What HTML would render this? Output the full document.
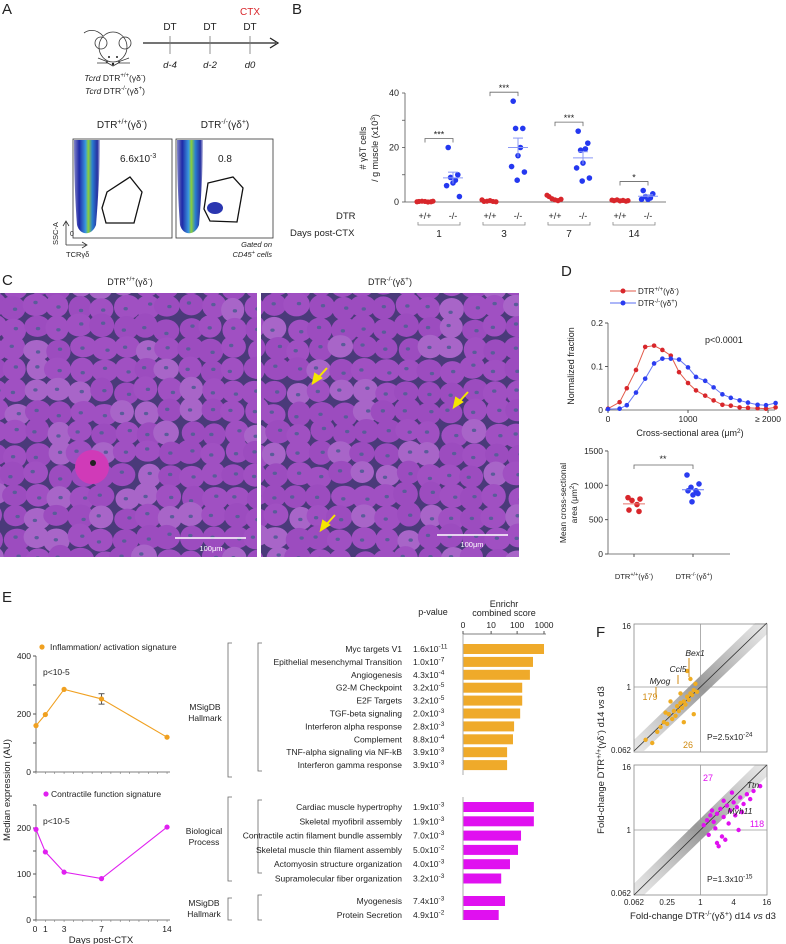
<!DOCTYPE html>
<html><head><meta charset="utf-8"><style>
html,body{margin:0;padding:0;background:#fff;}
svg{display:block;font-family:"Liberation Sans",Arial,sans-serif;}
text{fill:#222;}
</style></head><body>
<svg id="fig" width="786" height="944" viewBox="0 0 786 944" xmlns="http://www.w3.org/2000/svg">
<defs>
<linearGradient id="band" x1="0" x2="1" y1="0" y2="0">
<stop offset="0" stop-color="#2a2fa0" stop-opacity="0.6"/><stop offset="0.2" stop-color="#1f2aa8"/><stop offset="0.45" stop-color="#3a9adf"/><stop offset="0.55" stop-color="#8ccf3a"/><stop offset="0.7" stop-color="#2a7fd0"/><stop offset="0.9" stop-color="#2630a0"/><stop offset="1" stop-color="#2a2fa0" stop-opacity="0.3"/>
</linearGradient>
<linearGradient id="cloud" x1="0" x2="1" y1="1" y2="0">
<stop offset="0" stop-color="#999" stop-opacity="0.3"/><stop offset="0.5" stop-color="#666" stop-opacity="0.9"/><stop offset="1" stop-color="#999" stop-opacity="0.3"/>
</linearGradient>
</defs>

<!-- Panel A -->
<g>
<text x="2" y="14" font-size="15">A</text>
<g fill="none" stroke="#333" stroke-width="0.8">
<path d="M103,36 C96,28 88,30 84,33"/>
<ellipse cx="113" cy="47" rx="14" ry="15"/>
<circle cx="101" cy="43" r="6"/><circle cx="125" cy="43" r="6"/>
<path d="M106,62 L113,66 L120,62"/>
<path d="M108,62 L98,58 M108,63 L97,63 M118,62 L129,58 M118,63 L130,63"/>
</g>
<circle cx="109" cy="57" r="1" fill="#222"/><circle cx="117" cy="57" r="1" fill="#222"/><circle cx="113" cy="64" r="1.2" fill="#222"/>
<text x="115" y="81" font-size="8.5" text-anchor="middle"><tspan font-style="italic">Tcrd</tspan> DTR<tspan font-size="6" dy="-4">+/+</tspan><tspan dy="4">(γδ</tspan><tspan font-size="6" dy="-4">-</tspan><tspan dy="4">)</tspan></text>
<text x="115" y="94" font-size="8.5" text-anchor="middle"><tspan font-style="italic">Tcrd</tspan> DTR<tspan font-size="6" dy="-4">-/-</tspan><tspan dy="4">(γδ</tspan><tspan font-size="6" dy="-4">+</tspan><tspan dy="4">)</tspan></text>
<g>
<line x1="143" y1="43" x2="276" y2="43" stroke="#222" stroke-width="1.3"/>
<path d="M270,38 L278,43 L270,48" fill="none" stroke="#222" stroke-width="1.3"/>
<line x1="170" y1="36" x2="170" y2="54" stroke="#777" stroke-width="0.8"/>
<line x1="210" y1="36" x2="210" y2="54" stroke="#777" stroke-width="0.8"/>
<line x1="250" y1="36" x2="250" y2="54" stroke="#777" stroke-width="0.8"/>
<text x="170" y="30" font-size="10" text-anchor="middle">DT</text>
<text x="210" y="30" font-size="10" text-anchor="middle">DT</text>
<text x="250" y="30" font-size="10" text-anchor="middle">DT</text>
<text x="250" y="15" font-size="10" text-anchor="middle" style="fill:#d8262b">CTX</text>
<text x="170" y="68" font-size="9.5" font-style="italic" text-anchor="middle">d-4</text>
<text x="210" y="68" font-size="9.5" font-style="italic" text-anchor="middle">d-2</text>
<text x="250" y="68" font-size="9.5" font-style="italic" text-anchor="middle">d0</text>
</g>
<text x="122" y="128" font-size="10" text-anchor="middle">DTR<tspan font-size="7" dy="-4">+/+</tspan><tspan dy="4">(γδ</tspan><tspan font-size="7" dy="-4">-</tspan><tspan dy="4">)</tspan></text>
<text x="225" y="128" font-size="10" text-anchor="middle">DTR<tspan font-size="7" dy="-4">-/-</tspan><tspan dy="4">(γδ</tspan><tspan font-size="7" dy="-4">+</tspan><tspan dy="4">)</tspan></text>
<g>
<path d="M74,140 L100,140 C100,170 98,200 96,225 C92,236 80,236 77,225 C75,200 74,170 74,140Z" fill="url(#band)"/>
<rect x="73" y="139" width="99" height="99" fill="none" stroke="#333" stroke-width="0.8"/>
<polygon points="102,208 107,192 130,177 142,192 134,223 106,223" fill="none" stroke="#111" stroke-width="1.3"/>
<text x="120" y="162" font-size="10">6.6x10<tspan font-size="7" dy="-4">-3</tspan></text>
</g>
<g>
<path d="M177,140 L203,140 C203,170 201,200 199,225 C195,236 183,236 180,225 C178,200 177,170 177,140Z" fill="url(#band)"/>
<ellipse cx="215" cy="208" rx="8" ry="6" fill="#2a36b0"/>
<rect x="176" y="139" width="97" height="99" fill="none" stroke="#333" stroke-width="0.8"/>
<polygon points="204,209 208,183 233,177 243,188 237,222 210,221" fill="none" stroke="#111" stroke-width="1.3"/>
<text x="218" y="162" font-size="10">0.8</text>
</g>
<g stroke="#333" stroke-width="0.8" fill="none"><path d="M66,245 L66,222 M63,226 L66,221 L69,226 M66,245 L86,245 M82,242 L87,245 L82,248"/></g>
<text x="58" y="245" font-size="7.5" transform="rotate(-90 58 245)">SSC-A</text>
<text x="66" y="257" font-size="7.5">TCRγδ</text>
<text x="70" y="236" font-size="7">0</text>
<text x="272" y="247" font-size="7.5" font-style="italic" text-anchor="end">Gated on</text>
<text x="272" y="257" font-size="7.5" font-style="italic" text-anchor="end">CD45<tspan font-size="5.5" dy="-3">+</tspan><tspan dy="3"> cells</tspan></text>
</g>

<!-- Panel B -->
<g id="panelB">
<text x="292" y="14" font-size="15">B</text>
<line x1="405" y1="93" x2="405" y2="202" stroke="#555" stroke-width="0.8"/>
<line x1="405" y1="202" x2="666" y2="202" stroke="#555" stroke-width="0.8"/>
<text x="366" y="148" font-size="9" text-anchor="middle" transform="rotate(-90 366 148)"># γδT cells</text>
<text x="378" y="148" font-size="9" text-anchor="middle" transform="rotate(-90 378 148)">/ g muscle (x10<tspan font-size="6.5" dy="-3">3</tspan><tspan dy="3">)</tspan></text>
<text x="336" y="219" font-size="9.5" text-anchor="start">DTR</text>
<text x="290" y="236" font-size="9.5">Days post-CTX</text>
</g>

<!-- Panel C -->
<g>
<text x="2" y="285" font-size="15">C</text>
<text x="130" y="285" font-size="9" text-anchor="middle">DTR<tspan font-size="6.5" dy="-4">+/+</tspan><tspan dy="4">(γδ</tspan><tspan font-size="6.5" dy="-4">-</tspan><tspan dy="4">)</tspan></text>
<text x="390" y="285" font-size="9" text-anchor="middle">DTR<tspan font-size="6.5" dy="-4">-/-</tspan><tspan dy="4">(γδ</tspan><tspan font-size="6.5" dy="-4">+</tspan><tspan dy="4">)</tspan></text>
<svg x="0" y="293" width="257" height="264" overflow="hidden"><g id="histoL"></g></svg>
<svg x="261" y="293" width="258" height="264" overflow="hidden"><g id="histoR"></g></svg>
<line x1="175" y1="538" x2="246" y2="538" stroke="#fff" stroke-width="1.5"/>
<text x="211" y="551" font-size="7.5" text-anchor="middle" style="fill:#fff">100μm</text>
<line x1="437" y1="535" x2="508" y2="535" stroke="#fff" stroke-width="1.5"/>
<text x="472" y="547" font-size="7.5" text-anchor="middle" style="fill:#fff">100μm</text>
<g stroke="#f5e600" stroke-width="2" fill="#f5e600">
<line x1="327" y1="368" x2="317" y2="379"/><polygon points="313,383 315,374 321,378"/>
<line x1="468" y1="392" x2="458" y2="403"/><polygon points="454,407 456,398 462,402"/>
<line x1="335" y1="515" x2="325" y2="526"/><polygon points="321,530 323,521 329,525"/>
</g>
</g>

<!-- Panel D -->
<g id="panelD">
<text x="561" y="276" font-size="15">D</text>
<g>
<line x1="610" y1="291" x2="636" y2="291" stroke="#e25a4a"/><circle cx="623" cy="291" r="2.5" fill="#d8262b"/>
<text x="638" y="294" font-size="8">DTR<tspan font-size="6" dy="-3">+/+</tspan><tspan dy="3">(γδ</tspan><tspan font-size="6" dy="-3">-</tspan><tspan dy="3">)</tspan></text>
<line x1="610" y1="303" x2="636" y2="303" stroke="#5a6cf0"/><circle cx="623" cy="303" r="2.5" fill="#2a3cf0"/>
<text x="638" y="306" font-size="8">DTR<tspan font-size="6" dy="-3">-/-</tspan><tspan dy="3">(γδ</tspan><tspan font-size="6" dy="-3">+</tspan><tspan dy="3">)</tspan></text>
</g>
<text x="705" y="343" font-size="9">p&lt;0.0001</text>
<text x="574" y="366" font-size="9" text-anchor="middle" transform="rotate(-90 574 366)">Normalized fraction</text>
<text x="690" y="436" font-size="9" text-anchor="middle">Cross-sectional area (μm<tspan font-size="6.5" dy="-3">2</tspan><tspan dy="3">)</tspan></text>
<text x="566" y="503" font-size="8.5" text-anchor="middle" transform="rotate(-90 566 503)">Mean cross-sectional</text>
<text x="577" y="503" font-size="8.5" text-anchor="middle" transform="rotate(-90 577 503)">area (μm<tspan font-size="6.5" dy="-3">2</tspan><tspan dy="3">)</tspan></text>
<text x="634" y="579" font-size="7.5" text-anchor="middle">DTR<tspan font-size="5.5" dy="-3">+/+</tspan><tspan dy="3">(γδ</tspan><tspan font-size="5.5" dy="-3">-</tspan><tspan dy="3">)</tspan></text>
<text x="694" y="579" font-size="7.5" text-anchor="middle">DTR<tspan font-size="5.5" dy="-3">-/-</tspan><tspan dy="3">(γδ</tspan><tspan font-size="5.5" dy="-3">+</tspan><tspan dy="3">)</tspan></text>
</g>

<!-- Panel E -->
<g id="panelE">
<text x="2" y="602" font-size="15">E</text>
<circle cx="42" cy="647" r="2.6" fill="#f0a020"/>
<text x="50" y="650" font-size="8.5">Inflammation/ activation signature</text>
<text x="43" y="675" font-size="8.5">p&lt;10-5</text>
<circle cx="46" cy="794" r="2.6" fill="#e020f0"/>
<text x="51" y="797" font-size="8.5">Contractile function signature</text>
<text x="43" y="824" font-size="8.5">p&lt;10-5</text>
<text x="10" y="790" font-size="9.5" text-anchor="middle" transform="rotate(-90 10 790)">Median expression (AU)</text>
<text x="101" y="943" font-size="9.5" text-anchor="middle">Days post-CTX</text>
<g fill="none" stroke="#666" stroke-width="0.8">
<path d="M232,643 L228,643 L228,777 L232,777"/>
<path d="M232,797 L228,797 L228,881 L232,881"/>
<path d="M232,898 L228,898 L228,920 L232,920"/>
<path d="M262,643 L258,643 L258,771 L262,771"/>
<path d="M262,800 L258,800 L258,873 L262,873"/>
<path d="M262,895 L258,895 L258,920 L262,920"/>
</g>
<text x="205" y="710" font-size="8.5" text-anchor="middle">MSigDB</text>
<text x="205" y="721" font-size="8.5" text-anchor="middle">Hallmark</text>
<text x="204" y="834" font-size="8.5" text-anchor="middle">Biological</text>
<text x="204" y="845" font-size="8.5" text-anchor="middle">Process</text>
<text x="204" y="906" font-size="8.5" text-anchor="middle">MSigDB</text>
<text x="204" y="917" font-size="8.5" text-anchor="middle">Hallmark</text>
<text x="433" y="615" font-size="9" text-anchor="middle">p-value</text>
<text x="504" y="607" font-size="9" text-anchor="middle">Enrichr</text>
<text x="504" y="616" font-size="9" text-anchor="middle">combined score</text>
<line x1="463" y1="634" x2="546" y2="634" stroke="#555" stroke-width="0.8"/>
<line x1="463" y1="634" x2="463" y2="775" stroke="#999" stroke-width="0.8"/>
<line x1="463" y1="797" x2="463" y2="920" stroke="#999" stroke-width="0.8"/>
</g>

<!-- Panel F -->
<g id="panelF">
<text x="596" y="637" font-size="15">F</text>
<text x="604" y="760" font-size="9.5" text-anchor="middle" transform="rotate(-90 604 760)">Fold-change DTR<tspan font-size="7" dy="-3">+/+</tspan><tspan dy="3">(γδ</tspan><tspan font-size="7" dy="-3">-</tspan><tspan dy="3">) d14 </tspan><tspan font-style="italic">vs</tspan> d3</text>
<text x="703" y="919" font-size="9.5" text-anchor="middle">Fold-change DTR<tspan font-size="7" dy="-3">-/-</tspan><tspan dy="3">(γδ</tspan><tspan font-size="7" dy="-3">+</tspan><tspan dy="3">) d14 </tspan><tspan font-style="italic">vs</tspan> d3</text>
</g>
</svg>

<script>
const NS = "http://www.w3.org/2000/svg";
const fig = document.getElementById('fig');
function mk(tag, parent, attrs) { const e = document.createElementNS(NS, tag); for (const k in attrs) e.setAttribute(k, attrs[k]); (parent || fig).appendChild(e); return e; }
function txt(parent, x, y, s, size, anchor, extra) { const t = mk('text', parent, Object.assign({x: x, y: y, 'font-size': size, 'text-anchor': anchor || 'start'}, extra || {})); t.textContent = s; return t; }

// ===== Panel B data =====
const bDays = ['1', '3', '7', '14'];
const bWT = [[0.2, 0.1, 0.3, 0, 0.2, 0.1, 0.3], [0.2, 0.1, 0.3, 0.2, 0.5, 0.8], [2, 1, 1.2, 0.5, 0.8, 2.5], [0.5, 0.3, 0.8, 0.6, 0.4, 0.7, 0.5]];
const bKO = [[20, 10, 9, 8, 7, 6, 2], [37, 27, 27, 20, 17, 13, 11, 8], [26, 21.6, 19, 19.5, 14.3, 12.5, 8.8, 7.7], [4.2, 3, 2, 1.5, 1, 1]];
const bStars = ['***', '***', '***', '*'];
const bTicks = [0, 10, 20, 30, 40];
const bTickLabels = ['0', '', '20', '', '40'];
const pB = document.getElementById('panelB');
const yB = v => 202 - v * 2.725;
const xBwt = i => 425 + i * 65;
bTicks.forEach((t, i) => {
  const l = mk('line', pB, {x1: 402, x2: 405, y1: yB(t), y2: yB(t), stroke: '#555', 'stroke-width': 0.8});
  
  
  if (bTickLabels[i]) txt(pB, 399, yB(t) + 3, bTickLabels[i], 9, 'end');
});
const jit = [-6, 6, -3, 3, 0, -8, 8, -1];
bDays.forEach((d, i) => {
  const xw = xBwt(i), xk = xw + 28;
  bWT[i].forEach((v, j) => {
    const c = mk('circle', pB, {cx: xw + jit[j % 8], cy: yB(v), r: 2.6, fill: '#d8262b'});
    
    
  });
  bKO[i].forEach((v, j) => {
    const c = mk('circle', pB, {cx: xk + jit[j % 8] * 0.8, cy: yB(v), r: 2.8, fill: '#2438f0'});
    
    
  });
  const m = bKO[i].reduce((a, b) => a + b, 0) / bKO[i].length;
  const sd = Math.sqrt(bKO[i].reduce((a, b) => a + (b - m) * (b - m), 0) / (bKO[i].length - 1)) / Math.sqrt(bKO[i].length);
  mk('line', pB, {x1: xk - 10, x2: xk + 10, y1: yB(m), y2: yB(m), stroke: '#8a98f5', 'stroke-width': 1});
  mk('line', pB, {x1: xk, x2: xk, y1: yB(m - sd), y2: yB(m + sd), stroke: '#8a98f5', 'stroke-width': 1});
  mk('line', pB, {x1: xk - 5, x2: xk + 5, y1: yB(m + sd), y2: yB(m + sd), stroke: '#8a98f5', 'stroke-width': 1});
  const mx = Math.max(...bKO[i]);
  const by = yB(mx) - 9;
  mk('path', pB, {d: `M${xw},${by + 4} L${xw},${by} L${xk},${by} L${xk},${by + 4}`, fill: 'none', stroke: '#666', 'stroke-width': 0.8});
  txt(pB, (xw + xk) / 2, by - 1, bStars[i], 9, 'middle');
  txt(pB, xw, 219, '+/+', 9, 'middle');
  txt(pB, xk, 219, '-/-', 9, 'middle');
  mk('path', pB, {d: `M${xw - 7},222 L${xw - 7},225 L${xk + 7},225 L${xk + 7},222`, fill: 'none', stroke: '#888', 'stroke-width': 0.8});
  const dl = txt(pB, (xw + xk) / 2, 237, d, 10, 'middle');
  
  
});

// ===== Histology texture =====
function histo(g, seed, w, h) {
  let s = seed;
  const rnd = () => { s = (s * 16807) % 2147483647; return s / 2147483647; };
  mk('rect', g, {x: 0, y: 0, width: w, height: h, fill: '#4a3a7a'});
  for (let yy = -10; yy < h + 20; yy += 21) {
    for (let xx = -10; xx < w + 20; xx += 22) {
      const cx = xx + rnd() * 6, cy = yy + rnd() * 6;
      const light = rnd();
      const col = light > 0.8 ? '#a865c8' : (light > 0.4 ? '#a050c2' : '#9c4cbf');
      mk('ellipse', g, {cx: cx, cy: cy, rx: 11.5 + rnd() * 2, ry: 10.5 + rnd() * 2, fill: col});
      mk('ellipse', g, {cx: cx + (rnd() - 0.5) * 6, cy: cy + (rnd() - 0.5) * 6, rx: 2.2, ry: 1.7, fill: '#5a5c9a'});
    }
  }
}
histo(document.getElementById('histoL'), 12345, 257, 264);
histo(document.getElementById('histoR'), 67891, 258, 264);
const hl = document.getElementById('histoL');
mk('ellipse', hl, {cx: 92, cy: 174, rx: 17, ry: 17, fill: '#d03ab8'});
mk('circle', hl, {cx: 93, cy: 170, r: 3, fill: '#222'});

// ===== Panel D data =====
const dArea = [0, 145, 235, 350, 465, 576, 680, 785, 888, 1000, 1100, 1215, 1320, 1430, 1535, 1645, 1750, 1870, 1975, 2095];
const dWT = [0.003, 0.018, 0.05, 0.092, 0.145, 0.148, 0.138, 0.125, 0.087, 0.062, 0.045, 0.033, 0.022, 0.012, 0.01, 0.006, 0.005, 0.004, 0.003, 0.006];
const dKO = [0.002, 0.003, 0.011, 0.04, 0.072, 0.107, 0.118, 0.118, 0.116, 0.098, 0.076, 0.067, 0.052, 0.036, 0.028, 0.022, 0.017, 0.012, 0.011, 0.016];
const dXTicks = [0, 1000, 2000];
const dXTickLabels = ['0', '1000', '≥ 2000'];
const dYTicks = [0, 0.1, 0.2];
const dYTickLabels = ['0', '0.1', '0.2'];
const dMeanWT = [820, 800, 780, 720, 640, 620];
const dMeanKO = [1150, 1020, 970, 920, 920, 880, 860, 760];
const dMeanTicks = [0, 500, 1000, 1500];
const pD = document.getElementById('panelD');
const xD = v => 608 + v * 0.08;
const yD = v => 410 - v * 435;
mk('line', pD, {x1: 608, x2: 608, y1: 323, y2: 410, stroke: '#555', 'stroke-width': 0.8});
mk('line', pD, {x1: 608, x2: 775, y1: 410, y2: 410, stroke: '#555', 'stroke-width': 0.8});
dYTicks.forEach((t, i) => { mk('line', pD, {x1: 605, x2: 608, y1: yD(t), y2: yD(t), stroke: '#555'}); txt(pD, 603, yD(t) + 3, dYTickLabels[i], 8.5, 'end'); });
dXTicks.forEach((t, i) => { mk('line', pD, {x1: xD(t), x2: xD(t), y1: 410, y2: 413, stroke: '#555'}); txt(pD, xD(t), 422, dXTickLabels[i], 8.5, 'middle'); });
[[dWT, '#e25a4a', '#d8262b', 'wt'], [dKO, '#6a7af2', '#2a3cf0', 'ko']].forEach(([arr, lc, pc, nm]) => {
  const p = mk('polyline', pD, {points: arr.map((v, i) => xD(dArea[i]) + ',' + yD(v)).join(' '), fill: 'none', stroke: lc, 'stroke-width': 1});
  
  
  arr.forEach((v, i) => {
    const c = mk('circle', pD, {cx: xD(dArea[i]), cy: yD(v), r: 2.3, fill: pc});
    
    
  });
});
const yDm = v => 554 - v * 0.0687;
mk('line', pD, {x1: 608, x2: 608, y1: yDm(1500), y2: 554, stroke: '#555', 'stroke-width': 0.8});
mk('line', pD, {x1: 608, x2: 730, y1: 554, y2: 554, stroke: '#555', 'stroke-width': 0.8});
mk('line', pD, {x1: 634, x2: 634, y1: 554, y2: 557, stroke: '#555'});
mk('line', pD, {x1: 693, x2: 693, y1: 554, y2: 557, stroke: '#555'});
dMeanTicks.forEach(t => { mk('line', pD, {x1: 605, x2: 608, y1: yDm(t), y2: yDm(t), stroke: '#555'}); txt(pD, 603, yDm(t) + 3, String(t), 8.5, 'end'); });
const mj = [-6, 6, -2, 3, -5, 5, 0, -1];
[[dMeanWT, 634, '#d8262b', '#e8706a', 'wt'], [dMeanKO, 693, '#2a3cf0', '#6a7af2', 'ko']].forEach(([arr, cx, pc, lc, nm]) => {
  arr.forEach((v, j) => {
    const c = mk('circle', pD, {cx: cx + mj[j], cy: yDm(v), r: 2.8, fill: pc});
    
    
  });
  const m = arr.reduce((a, b) => a + b, 0) / arr.length;
  mk('line', pD, {x1: cx - 11, x2: cx + 11, y1: yDm(m), y2: yDm(m), stroke: lc});
});
mk('path', pD, {d: 'M634,469 L634,465 L693,465 L693,469', fill: 'none', stroke: '#666', 'stroke-width': 0.8});
txt(pD, 663, 462, '**', 9, 'middle');

// ===== Panel E data =====
const eDays = [0, 1, 3, 7, 14];
const eInflam = [160, 198, 285, 252, 120];
const eInflamErr = [0, 0, 0, 18, 0];
const eContr = [197, 148, 104, 90, 202];
const eTopTicks = [0, 100, 200, 300, 400];
const eBotTicks = [0, 50, 100, 150, 200, 250];
const pE = document.getElementById('panelE');
const xE = d => 36 + d * 9.36;
const yE1 = v => 772 - v * 0.29;
const yE2 = v => 920 - v * 0.46;
mk('line', pE, {x1: 36, x2: 36, y1: yE1(400), y2: 772, stroke: '#555', 'stroke-width': 0.8});
mk('line', pE, {x1: 36, x2: 170, y1: 772, y2: 772, stroke: '#555', 'stroke-width': 0.8});
mk('line', pE, {x1: 36, x2: 36, y1: yE2(250), y2: 920, stroke: '#555', 'stroke-width': 0.8});
mk('line', pE, {x1: 36, x2: 170, y1: 920, y2: 920, stroke: '#555', 'stroke-width': 0.8});
eTopTicks.forEach(t => { mk('line', pE, {x1: 33, x2: 36, y1: yE1(t), y2: yE1(t), stroke: '#555'}); if (t % 200 === 0) txt(pE, 31, yE1(t) + 3, String(t), 8.5, 'end'); });
eBotTicks.forEach(t => { mk('line', pE, {x1: 33, x2: 36, y1: yE2(t), y2: yE2(t), stroke: '#555'}); if (t % 100 === 0) txt(pE, 31, yE2(t) + 3, String(t), 8.5, 'end'); });
for (let d = 0; d <= 14; d++) { mk('line', pE, {x1: xE(d), x2: xE(d), y1: 772, y2: 774, stroke: '#777', 'stroke-width': 0.6}); mk('line', pE, {x1: xE(d), x2: xE(d), y1: 920, y2: 922, stroke: '#777', 'stroke-width': 0.6}); }
eDays.forEach(d => txt(pE, xE(d) + (d === 0 ? -1 : 0), 932, String(d), 8.5, 'middle'));
const li = mk('polyline', pE, {points: eDays.map((d, i) => xE(d) + ',' + yE1(eInflam[i])).join(' '), fill: 'none', stroke: '#f0a020', 'stroke-width': 1.1});


eDays.forEach((d, i) => {
  if (eInflamErr[i]) { mk('line', pE, {x1: xE(d), x2: xE(d), y1: yE1(eInflam[i] - eInflamErr[i]), y2: yE1(eInflam[i] + eInflamErr[i]), stroke: '#555'}); mk('line', pE, {x1: xE(d) - 3, x2: xE(d) + 3, y1: yE1(eInflam[i] + eInflamErr[i]), y2: yE1(eInflam[i] + eInflamErr[i]), stroke: '#555'}); mk('line', pE, {x1: xE(d) - 3, x2: xE(d) + 3, y1: yE1(eInflam[i] - eInflamErr[i]), y2: yE1(eInflam[i] - eInflamErr[i]), stroke: '#555'}); }
  const c = mk('circle', pE, {cx: xE(d), cy: yE1(eInflam[i]), r: 2.6, fill: '#f0a020'});
  
  
});
const lc2 = mk('polyline', pE, {points: eDays.map((d, i) => xE(d) + ',' + yE2(eContr[i])).join(' '), fill: 'none', stroke: '#e020f0', 'stroke-width': 1.1});


eDays.forEach((d, i) => {
  const c = mk('circle', pE, {cx: xE(d), cy: yE2(eContr[i]), r: 2.6, fill: '#e020f0'});
  
  
});

// ===== Panel E bar chart data =====
const gsNames = ['Myc targets V1', 'Epithelial mesenchymal Transition', 'Angiogenesis', 'G2-M Checkpoint', 'E2F Targets', 'TGF-beta signaling', 'Interferon alpha response', 'Complement', 'TNF-alpha signaling via NF-kB', 'Interferon gamma response', 'Cardiac muscle hypertrophy', 'Skeletal myofibril assembly', 'Contractile actin filament bundle assembly', 'Skeletal muscle thin filament assembly', 'Actomyosin structure organization', 'Supramolecular fiber organization', 'Myogenesis', 'Protein Secretion'];
const gsPMant = ['1.6', '1.0', '4.3', '3.2', '3.2', '2.0', '2.8', '8.8', '3.9', '3.9', '1.9', '1.9', '7.0', '5.0', '4.0', '3.2', '7.4', '4.9'];
const gsPExp = ['-11', '-7', '-4', '-5', '-5', '-3', '-3', '-4', '-3', '-3', '-3', '-3', '-3', '-2', '-3', '-3', '-3', '-2'];
const gsScore = [1000, 390, 300, 155, 155, 130, 77, 70, 42, 42, 420, 420, 140, 108, 54, 25, 35, 20];
const gsGroup = [0, 0, 0, 0, 0, 0, 0, 0, 0, 0, 1, 1, 1, 1, 1, 1, 1, 1];
const scoreTicks = [0, 10, 100, 1000];
const xS = v => 463 + 27 * Math.log10(1 + v);
const rowY = i => i < 10 ? 649 + i * 12.9 : (i < 16 ? 807 + (i - 10) * 14.3 : 901 + (i - 16) * 14);
scoreTicks.forEach(t => { mk('line', pE, {x1: xS(t), x2: xS(t), y1: 631, y2: 634, stroke: '#555'}); txt(pE, xS(t), 628, String(t), 8.5, 'middle'); });
gsNames.forEach((n, i) => {
  const y = rowY(i);
  txt(pE, 402, y + 3, n, 8.5, 'end');
  const pt = mk('text', pE, {x: 413, y: y + 3, 'font-size': 8.5});
  pt.innerHTML = gsPMant[i] + 'x10<tspan font-size="6.5" dy="-3.5">' + gsPExp[i] + '</tspan>';
  const b = mk('rect', pE, {x: 463.5, y: y - 5, width: xS(gsScore[i]) - 463.5, height: 10, fill: gsGroup[i] ? '#e010f0' : '#efaa2a'});
  
  
});

// ===== Panel F data =====
const fTicks = [-4, -2, 0, 2, 4];
const fTickLabels = ['0.062', '0.25', '1', '4', '16'];
const fUpX = [-3.3, -2.9, -2.6, -2.4, -2.2, -2.0, -1.9, -1.7, -1.6, -1.5, -1.4, -1.3, -1.2, -1.1, -1.0, -0.9, -0.8, -0.7, -0.6, -0.5, -0.4, -0.3, -0.2, -0.6, -1.2, -1.8, -2.1, -1.0, -0.4, -0.8];
const fUpY = [-3.3, -3.5, -2.8, -2.5, -2.2, -2.3, -1.7, -2.0, -1.5, -1.8, -1.2, -1.5, -1.0, -1.3, -0.9, -1.1, -0.6, -0.8, -0.4, -0.5, -0.2, 0.2, -0.3, 0.5, -0.4, -0.9, -1.6, -2.2, -1.7, 1.0];
const fDnX = [0.2, 0.4, 0.6, 0.8, 1.0, 1.2, 1.4, 1.6, 1.8, 2.0, 2.2, 2.4, 2.6, 2.8, 3.0, 0.5, 0.9, 1.3, 1.7, 2.1, 2.5, 1.1, 1.5, 0.7, 1.9, 3.2, 3.6, 1.0, 2.3, 1.4];
const fDnY = [0.3, 0.6, 0.9, 0.5, 1.0, 1.3, 0.8, 1.5, 1.2, 1.7, 1.4, 2.0, 1.6, 2.2, 1.9, -0.3, 0.1, -0.4, 0.4, 0.9, 1.1, -1.0, -0.6, 1.2, 2.3, 2.4, 2.7, -0.8, 0.0, 1.8];
const pF = document.getElementById('panelF');
const xF = v => 634 + (v + 4) * 16.6;
[[624, 687, 752, fUpX, fUpY, '#efac22', 'up'], [765, 830, 895, fDnX, fDnY, '#e010f0', 'down']].forEach(([top, mid, bot, xs, ys, col, nm]) => {
  const s = (bot - top) / 8;
  const yF = v => mid - v * s;
  mk('rect', pF, {x: 634, y: top, width: 133, height: bot - top, fill: '#fff', stroke: '#888', 'stroke-width': 0.8});
  const cl = mk('polygon', pF, {points: [[-4, -4], [-3.4, -4], [4, 3.3], [4, 4], [3.3, 4], [-4, -3.3]].map(p => xF(p[0]) + ',' + yF(p[1])).join(' '), fill: 'url(#cloud)', opacity: 0.75});
  
  
  mk('line', pF, {x1: xF(0), x2: xF(0), y1: top, y2: bot, stroke: '#999', 'stroke-width': 0.8});
  mk('line', pF, {x1: 634, x2: 767, y1: yF(0), y2: yF(0), stroke: '#999', 'stroke-width': 0.8});
  mk('line', pF, {x1: xF(-4), x2: xF(4), y1: yF(-4), y2: yF(4), stroke: '#333', 'stroke-width': 0.8});
  xs.forEach((x, i) => {
    const c = mk('circle', pF, {cx: xF(x), cy: yF(ys[i]), r: 2.2, fill: col});
    
    
  });
  txt(pF, 631, top + 5, '16', 8, 'end');
  txt(pF, 631, mid + 3, '1', 8, 'end');
  txt(pF, 631, bot + 1, '0.062', 8, 'end');
});
fTicks.forEach((t, i) => txt(pF, xF(t), 905, fTickLabels[i], 8, 'middle'));
txt(pF, 650, 700, '179', 9, 'middle', {style: 'fill:#d08a10'});
txt(pF, 688, 748, '26', 9, 'middle', {style: 'fill:#d08a10'});
txt(pF, 660, 684, 'Myog', 8.5, 'middle', {'font-style': 'italic'});
txt(pF, 678, 672, 'Ccl5', 8.5, 'middle', {'font-style': 'italic'});
txt(pF, 695, 656, 'Bex1', 8.5, 'middle', {'font-style': 'italic'});
mk('line', pF, {x1: 656, x2: 656, y1: 687, y2: 697, stroke: '#d08a10'});
mk('line', pF, {x1: 678, x2: 678, y1: 675, y2: 684, stroke: '#d08a10'});
mk('line', pF, {x1: 689, x2: 689, y1: 658, y2: 677, stroke: '#d08a10'});
const pt1 = mk('text', pF, {x: 707, y: 740, 'font-size': 8.5}); pt1.innerHTML = 'P=2.5x10<tspan font-size="6.5" dy="-3.5">-24</tspan>';
txt(pF, 708, 781, '27', 9, 'middle', {style: 'fill:#e010f0'});
txt(pF, 757, 827, '118', 9, 'middle', {style: 'fill:#e010f0'});
txt(pF, 753, 788, 'Ttn', 8.5, 'middle', {'font-style': 'italic'});
txt(pF, 740, 814, 'Myh11', 8.5, 'middle', {'font-style': 'italic'});
const pt2 = mk('text', pF, {x: 707, y: 882, 'font-size': 8.5}); pt2.innerHTML = 'P=1.3x10<tspan font-size="6.5" dy="-3.5">-15</tspan>';
</script>
</body></html>
